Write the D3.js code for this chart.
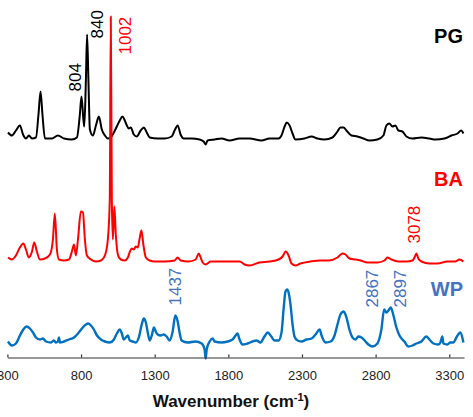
<!doctype html>
<html lang='en'>
<head>
  <meta charset='utf-8'>
  <title>Raman spectra</title>
  <style>
    html, body { margin: 0; padding: 0; background: #fff; }
    svg { display: block; font-family: 'Liberation Sans', Arial, sans-serif; }
    .axis path, .axis line { stroke: #333; stroke-width: 1.2; }
    .axis text { font-size: 13px; fill: #222; }
    .spectrum { fill: none; stroke-linejoin: round; }
  </style>
</head>
<body>
  <script src='https://d3js.org/d3.v7.min.js'></script>
  <script>
    // spectra: [wavenumber (cm-1), intensity above own baseline (a.u.)]
    const pgSpectrum = [
      [304, 0.7], [331, 0.4], [358, 0.9], [385, 1.4], [406, 0.5], [426, 0.1], [446, 0.4], [467, 0.1],
      [494, 0.2], [511, 2.5], [525, 4.8], [538, 2.5], [555, 0.1], [602, 0.1], [643, 0.4], [684, 0.1],
      [738, 0], [772, 0.2], [792, 2.5], [803, 4.3], [816, 2.0], [822, 1.3], [833, 6.0], [841, 10.5],
      [850, 6.0], [860, 1.0], [880, 0.4], [901, 1.4], [921, 2.3], [941, 1.0], [962, 0.4], [982, 0.1],
      [1002, 0.2], [1023, 0.7], [1043, 1.3], [1063, 1.9], [1081, 2.3], [1097, 1.9], [1111, 1.4],
      [1124, 1.1], [1138, 1.2], [1158, 0.5], [1178, 0.3], [1205, 0.9], [1227, 1.2], [1246, 0.7],
      [1266, 0.2], [1320, 0.1], [1368, 0.1], [1415, 0.3], [1435, 0.9], [1456, 1.4], [1476, 0.5],
      [1497, 0.1], [1551, 0.1], [1605, 0], [1632, -0.2], [1646, -0.5], [1659, -0.1], [1707, 0],
      [1754, 0.1], [1808, -0.1], [1876, 0.1], [1944, 0.1], [2025, -0.1], [2080, 0.1], [2141, 0.1],
      [2161, 0.4], [2182, 1.3], [2197, 1.7], [2216, 1.4], [2236, 0.6], [2256, 0], [2317, 0.1],
      [2365, 0.3], [2405, 0.1], [2453, 0], [2507, 0.2], [2541, 0.8], [2561, 1.2], [2582, 1.2],
      [2602, 0.9], [2636, 0.4], [2676, 0.3], [2717, 0.1], [2758, -0.1], [2812, 0], [2853, 0.4],
      [2873, 1.4], [2894, 1.6], [2914, 1.3], [2934, 1.4], [2955, 0.9], [2982, 0.8], [3009, 0.3],
      [3050, 0.1], [3111, 0.2], [3165, 0.1], [3206, 0], [3267, 0.1], [3315, 0.4], [3356, 0.6],
      [3381, 0.9], [3396, 0.6]
    ]

    const baSpectrum = [
      [304, 0.4], [331, 0.2], [358, 0.6], [385, 1.4], [408, 1.8], [426, 1.2], [446, 0.4], [467, 1.0],
      [482, 1.9], [500, 1.0], [521, 0.2], [555, 0.3], [589, 0.7], [609, 2.2], [622, 4.8], [636, 1.2],
      [650, 0.2], [684, 0.1], [718, 0.2], [738, 1.0], [752, 1.7], [765, 0.6], [779, 2.2], [799, 5.0],
      [813, 4.9], [826, 2.2], [840, 0.6], [867, 0.2], [901, 0], [935, 0.1], [962, 0.6], [982, 2.2],
      [995, 6.2], [1002, 24.5], [1009, 6.2], [1016, 2.2], [1026, 5.5], [1036, 2.7], [1050, 0.7],
      [1070, 0.2], [1097, 0.1], [1118, 0.4], [1132, 1.0], [1145, 1.3], [1158, 1.2], [1172, 1.5],
      [1185, 1.4], [1199, 2.4], [1210, 3.1], [1223, 1.7], [1240, 0.4], [1266, 0.1], [1300, 0],
      [1368, 0], [1435, 0.1], [1456, 0.4], [1476, 0.1], [1530, 0], [1578, 0.2], [1599, 0.8],
      [1612, 0.4], [1626, -0.1], [1646, -0.3], [1680, 0], [1740, 0], [1808, 0], [1876, 0],
      [1910, -0.3], [1944, -0.4], [2011, -0.1], [2080, 0], [2141, 0.2], [2168, 0.5], [2190, 1.0],
      [2209, 0.6], [2229, -0.2], [2256, -0.4], [2290, -0.2], [2358, 0], [2420, 0.1], [2480, 0.1],
      [2541, 0.4], [2575, 0.8], [2595, 0.7], [2622, 0.3], [2663, 0.2], [2697, 0.1], [2744, -0.1],
      [2812, -0.1], [2860, 0.1], [2880, 0.4], [2907, 0.2], [2955, 0], [3009, 0], [3050, 0.1],
      [3064, 0.4], [3077, 0.8], [3090, 0.3], [3111, 0], [3165, -0.2], [3220, -0.2], [3287, 0],
      [3340, 0], [3370, 0.2], [3396, 0]
    ]

    const wpSpectrum = [
      [304, 0.1], [331, -0.3], [358, -0.1], [385, 0.7], [408, 1.3], [430, 1.6], [453, 1.4], [474, 1.0],
      [494, 0.5], [521, 0.3], [541, 0.4], [562, 0.1], [596, 0], [616, 0.2], [630, 0], [643, 0.1],
      [650, 0.5], [657, 0], [684, 0.1], [718, 0.3], [752, 0.5], [779, 0.9], [806, 1.4], [833, 1.8],
      [848, 1.9], [867, 1.7], [887, 1.3], [908, 0.7], [935, 0.3], [962, 0.1], [996, 0], [1023, 0.3],
      [1043, 0.9], [1063, 1.3], [1077, 0.9], [1090, 0.3], [1104, 0.5], [1118, 0.7], [1131, 0.2],
      [1151, 0.1], [1172, 0], [1192, 0.5], [1212, 1.8], [1226, 2.4], [1240, 2.0], [1253, 1.0],
      [1266, 0.2], [1280, 0.7], [1295, 1.5], [1307, 1.1], [1320, 0.8], [1341, 0.7], [1361, 0.8],
      [1381, 0.6], [1402, 0.2], [1422, 1.1], [1440, 2.7], [1456, 2.1], [1469, 1.0], [1483, 0.2],
      [1524, 0], [1578, 0.1], [1619, -0.1], [1639, -0.7], [1646, -1.6], [1653, -0.7], [1673, 0.1],
      [1693, 0.4], [1707, 0.1], [1754, 0], [1795, 0.1], [1829, 0.3], [1849, 0.7], [1862, 0.9],
      [1876, 0.3], [1897, -0.2], [1930, -0.1], [1964, 0.1], [1991, 0.2], [2018, 0], [2045, 0.6],
      [2067, 1.0], [2087, 0.7], [2114, 0.2], [2141, 0.2], [2161, 1.0], [2175, 3.3], [2188, 5.1],
      [2199, 5.3], [2209, 5.0], [2222, 3.8], [2236, 1.8], [2249, 0.6], [2270, 0.2], [2297, 0.1],
      [2331, 0.3], [2365, 0.4], [2392, 0.8], [2420, 1.3], [2433, 0.7], [2460, 0], [2494, 0.1],
      [2521, 0.7], [2541, 1.8], [2561, 2.8], [2583, 3.1], [2602, 2.5], [2622, 1.3], [2643, 0.5],
      [2663, 0.3], [2683, 0.6], [2704, 0.5], [2731, 0.1], [2751, -0.2], [2778, -0.4], [2812, -0.1],
      [2839, 1.3], [2858, 3.3], [2873, 3.0], [2887, 3.2], [2903, 3.5], [2921, 2.7], [2941, 1.5],
      [2962, 0.7], [2995, 0.1], [3023, -0.4], [3050, -0.3], [3077, -0.1], [3111, 0.1], [3144, 0.6],
      [3165, 0.3], [3192, -0.1], [3226, -0.2], [3240, 0], [3253, 0.6], [3260, -0.1], [3287, -0.2],
      [3307, 0], [3328, 0], [3348, 0.5], [3376, 1.0], [3396, 0]
    ]

    const seriesNames = ['PG', 'BA', 'WP']
    const seriesOffsets = [21.8, 9.6, 1.5]
    const seriesColors = ['#000000', '#ff0000', '#0070c0']
    const seriesLabelColors = ['#000000', '#ff0000', '#4472c4']

    // peak annotations: text, wavenumber of label centre, intensity of label start, series
    const peakLabels = [
      ['804', 758, 26.6, 'PG'],
      ['840', 909, 31.9, 'PG'],
      ['1002', 1097, 30.3, 'BA'],
      ['3078', 3060, 11.4, 'BA'],
      ['1437', 1439, 5.2, 'WP'],
      ['2867', 2777, 5.0, 'WP'],
      ['2897', 2966, 5.0, 'WP']
    ]

    const xTicks = [300, 800, 1300, 1800, 2300, 2800, 3300]

    const width = 473
    const height = 417

    const x = d3.scaleLinear().domain([300, 3400]).range([7.4, 464])
    const y = d3.scaleLinear().domain([0, 34]).range([357.5, 17.5])

    const svg = d3.select('body').append('svg')
      .attr('width', width)
      .attr('height', height)

    const spectra = [pgSpectrum, baSpectrum, wpSpectrum]
    const drawOrder = [0, 2, 1]

    drawOrder.forEach(i => {
      const line = d3.line()
        .x(d => x(d[0]))
        .y(d => y(d[1] + seriesOffsets[i]))
        .curve(d3.curveMonotoneX)

      svg.append('path')
        .attr('class', 'spectrum')
        .attr('d', line(spectra[i]))
        .attr('stroke', seriesColors[i])
        .attr('stroke-width', i === 2 ? 2.4 : 2)
    })

    // axis
    svg.append('g')
      .attr('class', 'axis')
      .attr('transform', `translate(0,${y(0)})`)
      .call(d3.axisBottom(x).tickValues(xTicks).tickSizeInner(-3).tickSizeOuter(0).tickPadding(13).tickFormat(d3.format('d')))
      .call(g => g.selectAll('text').attr('font-family', null))

    const title = svg.append('text')
      .attr('x', 231)
      .attr('y', 407)
      .attr('text-anchor', 'middle')
      .style('font-size', '17px')
      .style('font-weight', 'bold')
      .attr('fill', '#111')
    title.append('tspan').text('Wavenumber (cm')
    title.append('tspan').attr('dy', -6).style('font-size', '11px').text('-1')
    title.append('tspan').attr('dy', 6).text(')')

    // series names
    seriesNames.forEach((name, i) => {
      svg.append('text')
        .attr('x', 463)
        .attr('y', y(seriesOffsets[i]) - [97, 76, 47][i])
        .attr('text-anchor', 'end')
        .style('font-size', '20px')
        .style('font-weight', 'bold')
        .attr('fill', seriesLabelColors[i])
        .text(name)
    })

    // peak labels, rotated
    peakLabels.forEach(([text, wn, level, series]) => {
      const i = seriesNames.indexOf(series)
      svg.append('text')
        .attr('transform', `translate(${x(wn)},${y(level)}) rotate(-90)`)
        .attr('dy', '0.35em')
        .style('font-size', '17px')
        .attr('fill', seriesLabelColors[i])
        .text(text)
    })
  </script>
</body>
</html>
